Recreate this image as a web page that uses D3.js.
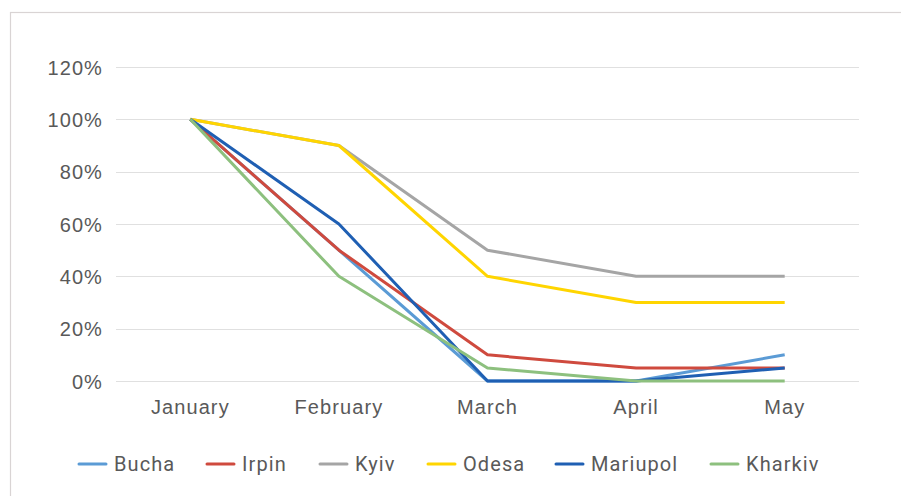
<!DOCTYPE html>
<html>
<head>
<meta charset="utf-8">
<script src="https://cdn.jsdelivr.net/npm/d3@7"></script>
<style>
  html, body { margin: 0; padding: 0; background: #fff; }
  svg { display: block; font-family: "Roboto", "Noto Sans", sans-serif; }
  .lbl { font-size: 20px; letter-spacing: 1.1px; fill: #595959; }
</style>
</head>
<body>
<div id="chart"></div>
<script>
// line chart, share remaining by month per city

const months = ["January", "February", "March", "April", "May"];
const yTicks = [0, 0.2, 0.4, 0.6, 0.8, 1.0, 1.2];

const cities = ["Bucha", "Irpin", "Kyiv", "Odesa", "Mariupol", "Kharkiv"];
const colors = ["#5b9bd5", "#cf4a3e", "#a5a5a5", "#ffd500", "#1f5fb3", "#8dc07e"];

const bucha    = [1.00, 0.50, 0.00, 0.00, 0.10];
const irpin    = [1.00, 0.50, 0.10, 0.05, 0.05];
const kyiv     = [1.00, 0.90, 0.50, 0.40, 0.40];
const odesa    = [1.00, 0.90, 0.40, 0.30, 0.30];
const mariupol = [1.00, 0.60, 0.00, 0.00, 0.05];
const kharkiv  = [1.00, 0.40, 0.05, 0.00, 0.00];

const seriesValues = [bucha, irpin, kyiv, odesa, mariupol, kharkiv];

const width = 901, height = 496;
const margin = { left: 116, right: 42, top: 67, bottom: 115 };

const svg = d3.select("#chart").append("svg")
  .attr("width", width)
  .attr("height", height);

// outer chart border (runs off right and bottom)
svg.append("rect")
  .attr("x", 10.5).attr("y", 12.5)
  .attr("width", width).attr("height", height)
  .attr("fill", "none")
  .attr("stroke", "#d9d4d4")
  .attr("stroke-width", 1.2);

const x = d3.scaleBand()
  .domain(months)
  .range([margin.left, width - margin.right]);

const y = d3.scaleLinear()
  .domain([0, 1.2])
  .range([height - margin.bottom, margin.top]);

// gridlines
svg.append("g")
  .selectAll("line")
  .data(yTicks)
  .enter()
  .append("line")
  .attr("x1", margin.left)
  .attr("x2", width - margin.right)
  .attr("y1", d => Math.round(y(d)) + 0.5)
  .attr("y2", d => Math.round(y(d)) + 0.5)
  .attr("stroke", "#e0e0e0")
  .attr("stroke-width", 1);

// y axis labels
const yAxis = d3.axisLeft(y)
  .tickValues(yTicks)
  .tickFormat(d3.format(".0%"))
  .tickSize(0)
  .tickPadding(13);

const gy = svg.append("g")
  .attr("transform", `translate(${margin.left},0)`)
  .call(yAxis);
gy.select(".domain").remove();
gy.selectAll("text")
  .attr("class", "lbl")
  .attr("fill", null)
  .attr("dy", "0.35em");

// x axis labels
const xAxis = d3.axisBottom(x).tickSize(0).tickPadding(19);
const gx = svg.append("g")
  .attr("transform", `translate(0,${height - margin.bottom})`)
  .call(xAxis);
gx.select(".domain").remove();
gx.selectAll("text")
  .attr("class", "lbl")
  .attr("fill", null);

// lines
const line = d3.line()
  .x((d, i) => x(months[i]) + x.bandwidth() / 2)
  .y(d => y(d));

svg.append("g")
  .selectAll("path")
  .data(seriesValues)
  .enter()
  .append("path")
  .attr("d", d => line(d))
  .attr("fill", "none")
  .attr("stroke", (d, i) => colors[i])
  .attr("stroke-width", 3)
  .attr("stroke-linejoin", "round");

// legend
const legendX = [79, 207, 320, 428, 556, 711];
const legendY = 464;
const lg = svg.append("g")
  .selectAll("g")
  .data(cities)
  .enter()
  .append("g")
  .attr("transform", (d, i) => `translate(${legendX[i]},${legendY})`);

lg.append("line")
  .attr("x1", 0).attr("x2", 27)
  .attr("y1", 0).attr("y2", 0)
  .attr("stroke", (d, i) => colors[i])
  .attr("stroke-width", 3)
  .attr("stroke-linecap", "round");

lg.append("text")
  .attr("class", "lbl")
  .attr("x", 35)
  .attr("y", 0)
  .attr("dy", "0.35em")
  .text(d => d);
</script>
</body>
</html>
